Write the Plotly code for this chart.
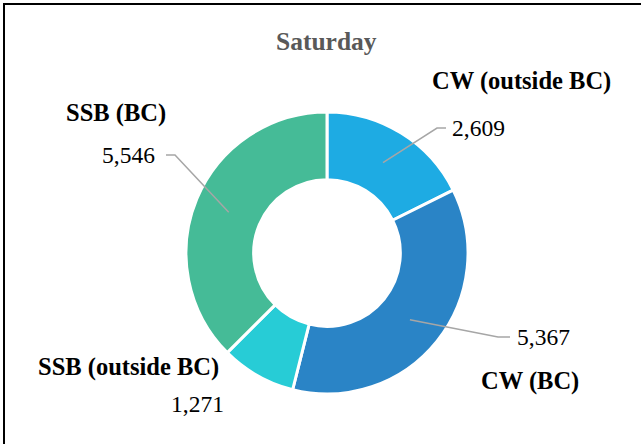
import math
import plotly.graph_objects as go

# ---- data ----
categories = ["CW (outside BC)", "CW (BC)", "SSB (outside BC)", "SSB (BC)"]
values = [2609, 5367, 1271, 5546]
colors = ["#1EABE3", "#2A84C6", "#27CCD6", "#45BB97"]
title_text = "Saturday"

# ---- layout geometry (pixels) ----
W, H = 641, 444
CX, CY, R = 327, 253, 141
HOLE = 0.52

def px(x):
    return x / W

def py(y):
    return 1 - y / H

# label placement (pixel centres) per category: name, value, elbow, leader end
label_layout = [
    dict(name=(521, 81), value=(478, 128), elbow=(437, 128), end=(446, 128)),
    dict(name=(530, 381), value=(543, 337), elbow=(498, 337), end=(510, 337)),
    dict(name=(128, 367), value=(197, 404), elbow=None, end=None),
    dict(name=(116, 113), value=(128, 155), elbow=(175, 155), end=(166, 155)),
]

fig = go.Figure(go.Pie(
    labels=categories,
    values=values,
    hole=HOLE,
    sort=False,
    direction="clockwise",
    rotation=0,
    marker=dict(colors=colors, line=dict(color="white", width=3)),
    textinfo="none",
    hoverinfo="label+value",
    showlegend=False,
    domain=dict(x=[px(CX - R), px(CX + R)], y=[py(CY + R), py(CY - R)]),
))

shapes = []
annotations = []
total = sum(values)
cum = 0
mid_r = 140 * (1 + HOLE) / 2
for cat, v, lay in zip(categories, values, label_layout):
    mid = (cum + v / 2) / total * 2 * math.pi
    cum += v
    ax = CX + mid_r * math.sin(mid)
    ay = CY - mid_r * math.cos(mid)
    if lay["elbow"] is not None:
        ex, ey = lay["elbow"]
        fx, fy = lay["end"]
        path = f"M {px(ax)},{py(ay)} L {px(ex)},{py(ey)} L {px(fx)},{py(fy)}"
        shapes.append(dict(type="path", xref="paper", yref="paper", path=path,
                           line=dict(color="#A6A6A6", width=1.5)))
    nx, ny = lay["name"]
    annotations.append(dict(text=f"<b>{cat}</b>", x=px(nx), y=py(ny), xref="paper", yref="paper",
                            xanchor="center", yanchor="middle", showarrow=False,
                            font=dict(family="Liberation Serif", size=24.5, color="#000000")))
    vx, vy = lay["value"]
    annotations.append(dict(text=f"{v:,}", x=px(vx), y=py(vy), xref="paper", yref="paper",
                            xanchor="center", yanchor="middle", showarrow=False,
                            font=dict(family="Liberation Serif", size=23.5, color="#000000")))

annotations.append(dict(text=f"<b>{title_text}</b>", x=px(326), y=py(41), xref="paper", yref="paper",
                        xanchor="center", yanchor="middle", showarrow=False,
                        font=dict(family="Liberation Serif", size=25.5, color="#595959")))

# chart border (left and top visible)
shapes.append(dict(type="rect", xref="paper", yref="paper",
                   x0=px(4), y0=py(460), x1=px(660), y1=py(4),
                   line=dict(color="#000000", width=2), fillcolor="rgba(0,0,0,0)"))

fig.update_layout(
    width=W, height=H,
    margin=dict(l=0, r=0, t=0, b=0),
    paper_bgcolor="white",
    plot_bgcolor="white",
    shapes=shapes,
    annotations=annotations,
)

fig.write_html("out.html", config={"displayModeBar": False},
               post_script="document.body.style.margin='0';document.body.style.overflow='hidden';")
